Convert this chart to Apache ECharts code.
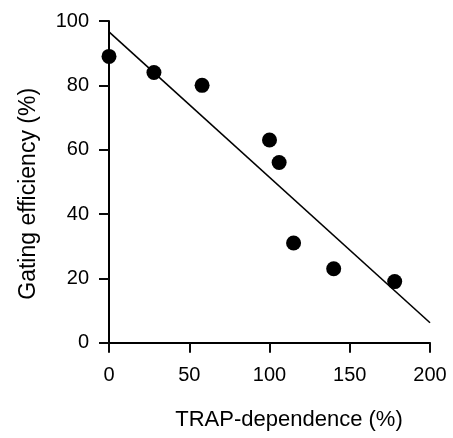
<!DOCTYPE html>
<html>
<head>
<meta charset="utf-8">
<script src="https://cdn.jsdelivr.net/npm/echarts@6/dist/echarts.min.js"></script>
<style>
html,body{margin:0;padding:0;background:#fff;}
#c{width:453px;height:438px;}
</style>
</head>
<body>
<div id="c"></div>
<script>
// Data
var trapDependence = [0, 28, 58, 100, 106, 115, 140, 178];
var gatingEfficiency = [89, 84, 80, 63, 56, 31, 23, 19];
// Regression line endpoints
var fitX = [0, 200];
var fitY = [96.6, 6.2];
var xTicks = [0, 50, 100, 150, 200];
var yTicks = [0, 20, 40, 60, 80, 100];

var points = trapDependence.map(function (x, i) { return [x, gatingEfficiency[i]]; });
var fitLine = fitX.map(function (x, i) { return [x, fitY[i]]; });

var font = 'Liberation Sans, Arial, Helvetica, sans-serif';
var chart = echarts.init(document.getElementById('c'), null, {renderer: 'canvas'});
chart.setOption({
  animation: false,
  backgroundColor: '#fff',
  grid: {left: 109, right: 23, top: 21, bottom: 95.3, containLabel: false, outerBoundsMode: 'none'},
  xAxis: {
    type: 'value',
    min: xTicks[0], max: xTicks[xTicks.length - 1], interval: 50,
    name: 'TRAP-dependence (%)',
    nameLocation: 'middle', nameGap: 66,
    nameTextStyle: {fontFamily: font, fontSize: 22, color: '#000', padding: [0, 0, 0, 39]},
    axisLine: {show: true, onZero: false, lineStyle: {color: '#000', width: 2}},
    axisTick: {show: true, inside: false, length: 10, lineStyle: {color: '#0a0a0a', width: 2, opacity: 1}},
    axisLabel: {fontFamily: font, fontSize: 20, color: '#000', margin: 23},
    splitLine: {show: false}
  },
  yAxis: {
    type: 'value',
    min: yTicks[0], max: yTicks[yTicks.length - 1], interval: 20,
    name: 'Gating efficiency (%)',
    nameLocation: 'middle', nameGap: 69,
    nameTextStyle: {fontFamily: font, fontSize: 23, color: '#000', padding: [0, 24, 0, 0]},
    axisLine: {show: true, onZero: false, lineStyle: {color: '#000', width: 2}},
    axisTick: {show: true, inside: false, length: 10, lineStyle: {color: '#0a0a0a', width: 2, opacity: 1}},
    axisLabel: {fontFamily: font, fontSize: 20, color: '#000', margin: 20},
    splitLine: {show: false}
  },
  series: [
    {
      type: 'line',
      data: fitLine,
      symbol: 'none',
      lineStyle: {color: '#000', width: 1.6},
      silent: true
    },
    {
      type: 'scatter',
      data: points,
      symbol: 'circle',
      symbolSize: 15,
      itemStyle: {color: '#000', opacity: 1}
    }
  ]
});
</script>
</body>
</html>
